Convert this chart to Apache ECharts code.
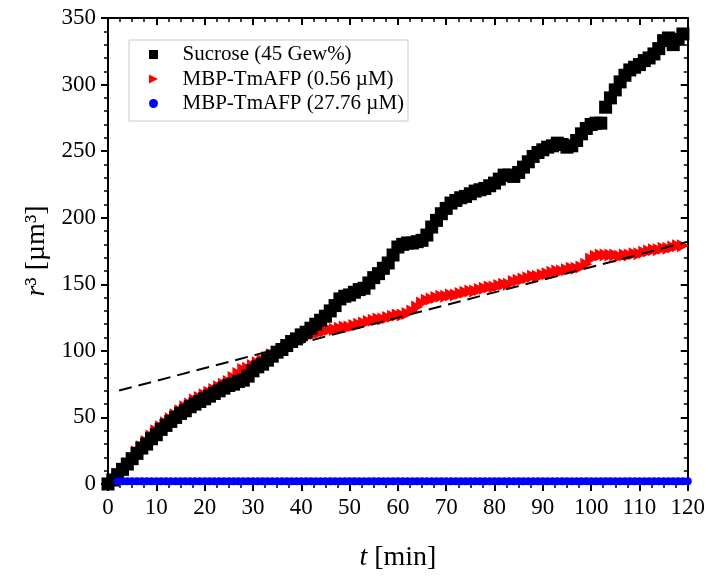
<!DOCTYPE html>
<html>
<head>
<meta charset="utf-8">
<script src="https://cdn.jsdelivr.net/npm/echarts@6/dist/echarts.min.js"></script>
<style>html,body{margin:0;padding:0;background:#fff}#c{width:708px;height:577px}</style>
</head>
<body>
<div id="c"></div>
<script>
const minutes = [0,1,2,3,4,5,6,7,8,9,10,11,12,13,14,15,16,17,18,19,20,21,22,23,24,25,26,27,28,29,30,31,32,33,34,35,36,37,38,39,40,41,42,43,44,45,46,47,48,49,50,51,52,53,54,55,56,57,58,59,60,61,62,63,64,65,66,67,68,69,70,71,72,73,74,75,76,77,78,79,80,81,82,83,84,85,86,87,88,89,90,91,92,93,94,95,96,97,98,99,100,101,102,103,104,105,106,107,108,109,110,111,112,113,114,115,116,117,118,119];
const sucrose = [0,3,7,11,15,19,23,27,30,34,37,41,44,47,50,53,55,58,60,62,64,66,68,70,72,74,75,77,78,81,85,88,90,93,96,99,101,104,107,109,112,114,117,120,123,126,130,134,139,141,142,144,146,147,151,155,158,162,166,172,178,180,181,181,182,183,187,193,198,203,207,211,213,215,216,218,220,221,222,224,226,229,232,232,231,234,238,242,246,249,251,253,254,256,255,253,254,258,263,267,270,271,271,283,290,296,302,307,311,313,315,318,320,323,327,333,335,330,334,338];
const tmafpLow = [0,2,5,9,14,19,24,28,32,36,40,43,46,49,52,55,58,60,63,65,67,69,71,73,75,77,80,83,86,87,89,91,93,95,97,99,101,103,105,107,109,111,112,113,114,115,116,116,117,118,118,119,120,121,122,123,124,124,125,126,127,127,128,130,133,136,138,139,140,141,141,142,142,143,144,145,145,146,147,148,148,149,150,150,152,153,154,155,156,156,157,158,159,160,160,161,162,162,163,165,169,171,172,172,172,172,171,172,172,173,173,174,175,176,176,177,177,178,179,179];
const tmafpHighT = [2,3,4,5,6,7,8,9,10,11,12,13,14,15,16,17,18,19,20,21,22,23,24,25,26,27,28,29,30,31,32,33,34,35,36,37,38,39,40,41,42,43,44,45,46,47,48,49,50,51,52,53,54,55,56,57,58,59,60,61,62,63,64,65,66,67,68,69,70,71,72,73,74,75,76,77,78,79,80,81,82,83,84,85,86,87,88,89,90,91,92,93,94,95,96,97,98,99,100,101,102,103,104,105,106,107,108,109,110,111,112,113,114,115,116,117,118,119,120];
const tmafpHigh = [2,2,2,2,2,2,2,2,2,2,2,2,2,2,2,2,2,2,2,2,2,2,2,2,2,2,2,2,2,2,2,2,2,2,2,2,2,2,2,2,2,2,2,2,2,2,2,2,2,2,2,2,2,2,2,2,2,2,2,2,2,2,2,2,2,2,2,2,2,2,2,2,2,2,2,2,2,2,2,2,2,2,2,2,2,2,2,2,2,2,2,2,2,2,2,2,2,2,2,2,2,2,2,2,2,2,2,2,2,2,2,2,2,2,2,2,2,2,2];
const fitT = [2.3, 120];
const fitV = [70.2, 181.9];
const seriesNames = ['Sucrose (45 Gew%)', 'MBP-TmAFP (0.56 µM)', 'MBP-TmAFP (27.76 µM)'];
const xName = '{i|t} [min]';
const yName = '{i|r}³ [µm³]';

const pairs = (xs, ys) => xs.map((x, i) => [x, ys[i]]);
const FONT = 'Liberation Serif';
const triPath = 'path://M0,0L10,5L0,10Z';
const sqPath = 'path://M0,0L10,0L10,10L0,10Z';

const chart = echarts.init(document.getElementById('c'), null, {renderer: 'canvas'});

const mkX = (pos, show) => ({
  type: 'value', position: pos, min: 0, max: 120, interval: 10,
  axisLine: {show: true, onZero: false, lineStyle: {color: '#000', width: 2}},
  axisTick: {show: true, inside: !show, length: 7, lineStyle: {color: '#000', width: 2}},
  minorTick: {show: true, splitNumber: 4, length: 4, lineStyle: {color: '#000', width: 1.5}},
  splitLine: {show: false},
  axisLabel: {show: show, margin: 12, color: '#000', fontFamily: FONT, fontSize: 23},
  name: show ? xName : '', nameLocation: 'middle', nameGap: 60,
  nameTextStyle: {color: '#000', fontFamily: FONT, fontSize: 28, rich: {i: {fontStyle: 'italic', fontFamily: FONT, fontSize: 28}}}
});
const mkY = (pos, show) => ({
  type: 'value', position: pos, min: 0, max: 350, interval: 50,
  axisLine: {show: true, onZero: false, lineStyle: {color: '#000', width: 2}},
  axisTick: {show: true, inside: !show, length: 7, lineStyle: {color: '#000', width: 2}},
  minorTick: {show: true, splitNumber: 5, length: 4, lineStyle: {color: '#000', width: 1.5}},
  splitLine: {show: false},
  axisLabel: {show: show, margin: 12, color: '#000', fontFamily: FONT, fontSize: 23},
  name: show ? yName : '', nameLocation: 'middle', nameGap: 57, nameRotate: 90,
  nameTextStyle: {color: '#000', fontFamily: FONT, fontSize: 28, rich: {i: {fontStyle: 'italic', fontFamily: FONT, fontSize: 28}}}
});

chart.setOption({
  animation: false,
  backgroundColor: '#fff',
  grid: {left: 108, right: 20, top: 18, bottom: 91, containLabel: false},
  xAxis: [mkX('bottom', true), mkX('top', false)],
  yAxis: [mkY('left', true), mkY('right', false)],
  legend: {
    left: 129, top: 40, orient: 'vertical',
    padding: [4, 4, 7, 20],
    itemWidth: 48, itemHeight: 9, itemGap: 3.5,
    backgroundColor: '#fff', borderColor: '#c8c8c8', borderWidth: 1, borderRadius: 0,
    textStyle: {color: '#000', fontFamily: FONT, fontSize: 21, lineHeight: 20},
    data: [
      {name: seriesNames[0], icon: sqPath},
      {name: seriesNames[1], icon: triPath},
      {name: seriesNames[2], icon: 'circle'}
    ]
  },
  series: [
    {
      name: seriesNames[1], type: 'scatter', xAxisIndex: 0, yAxisIndex: 0,
      symbol: triPath, symbolSize: [12, 13], itemStyle: {color: '#ff0000', opacity: 1},
      data: pairs(minutes, tmafpLow), z: 2
    },
    {
      name: 'fit', type: 'line', xAxisIndex: 0, yAxisIndex: 0,
      showSymbol: false, symbol: 'none',
      lineStyle: {color: '#000', width: 2, type: [13, 7]},
      data: pairs(fitT, fitV), z: 3
    },
    {
      name: seriesNames[0], type: 'scatter', xAxisIndex: 0, yAxisIndex: 0,
      symbol: sqPath, symbolSize: 13, itemStyle: {color: '#000', opacity: 1},
      data: pairs(minutes, sucrose), z: 4
    },
    {
      name: seriesNames[2], type: 'scatter', xAxisIndex: 0, yAxisIndex: 0,
      symbol: 'circle', symbolSize: 8, itemStyle: {color: '#0000ff', opacity: 1},
      data: pairs(tmafpHighT, tmafpHigh), z: 5
    }
  ]
});
</script>
</body>
</html>
